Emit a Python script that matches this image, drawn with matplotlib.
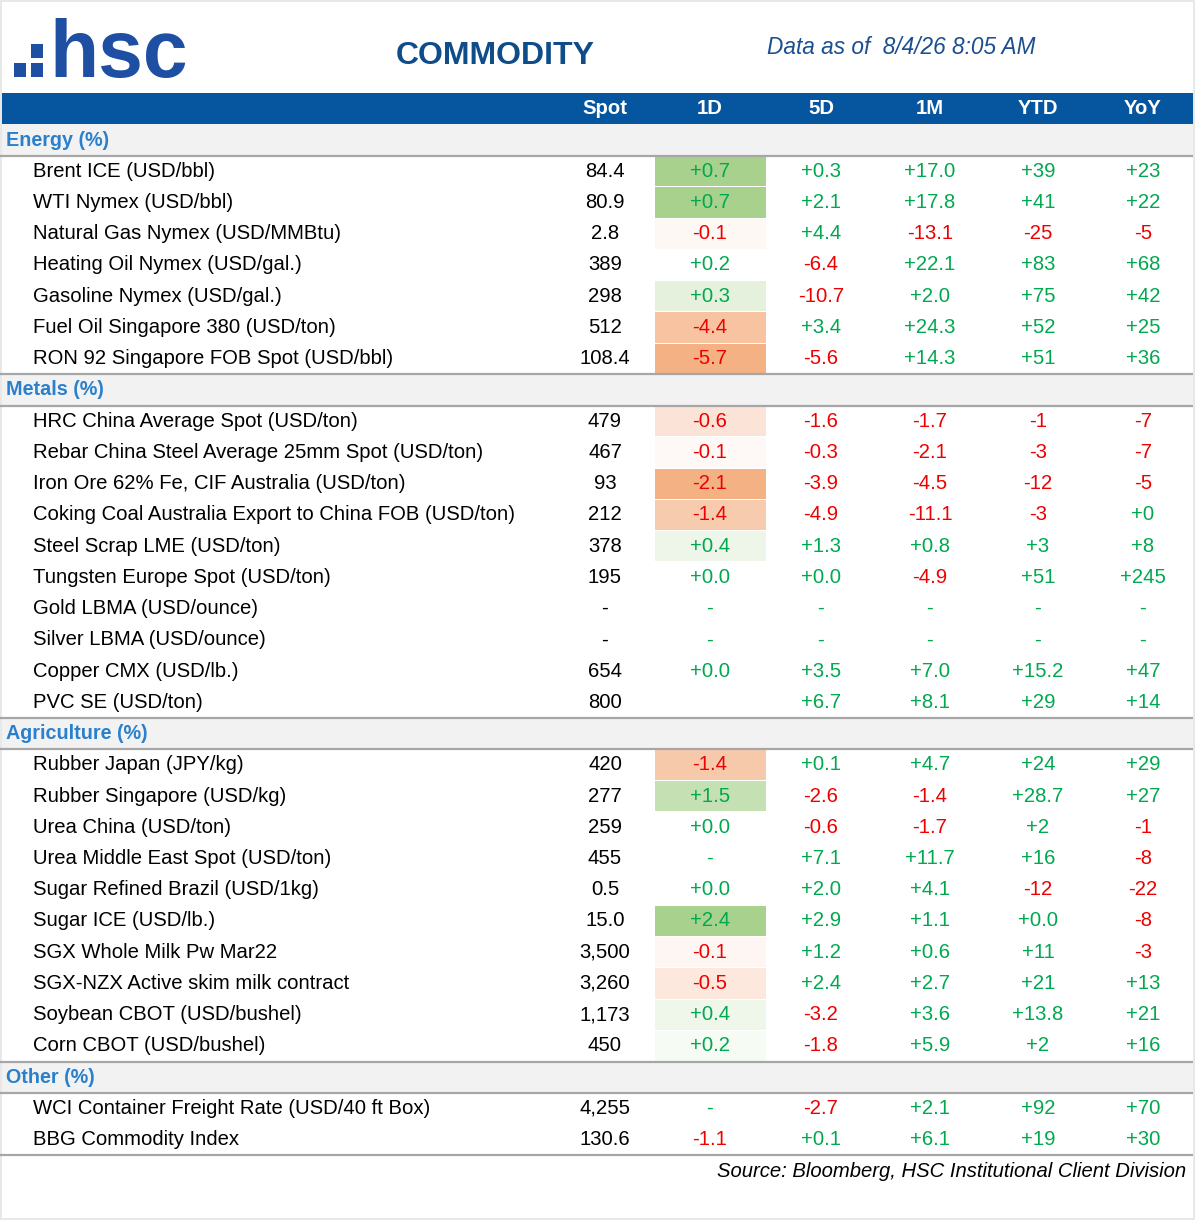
import matplotlib
matplotlib.use("Agg")
import matplotlib.pyplot as plt
from matplotlib.patches import Rectangle

# ---------------- data ----------------
columns = ["Spot", "1D", "5D", "1M", "YTD", "YoY"]
categories = ["Energy (%)", "Metals (%)", "Agriculture (%)", "Other (%)"]

energy_items = ["Brent ICE (USD/bbl)", "WTI Nymex (USD/bbl)", "Natural Gas Nymex (USD/MMBtu)",
                "Heating Oil Nymex (USD/gal.)", "Gasoline Nymex (USD/gal.)",
                "Fuel Oil Singapore 380 (USD/ton)", "RON 92 Singapore FOB Spot (USD/bbl)"]
energy_spot = ["84.4", "80.9", "2.8", "389", "298", "512", "108.4"]
energy_1d = ["+0.7", "+0.7", "-0.1", "+0.2", "+0.3", "-4.4", "-5.7"]
energy_5d = ["+0.3", "+2.1", "+4.4", "-6.4", "-10.7", "+3.4", "-5.6"]
energy_1m = ["+17.0", "+17.8", "-13.1", "+22.1", "+2.0", "+24.3", "+14.3"]
energy_ytd = ["+39", "+41", "-25", "+83", "+75", "+52", "+51"]
energy_yoy = ["+23", "+22", "-5", "+68", "+42", "+25", "+36"]

metals_items = ["HRC China Average Spot (USD/ton)", "Rebar China Steel Average 25mm Spot (USD/ton)",
                "Iron Ore 62% Fe, CIF Australia (USD/ton)",
                "Coking Coal Australia Export to China FOB (USD/ton)", "Steel Scrap LME (USD/ton)",
                "Tungsten Europe Spot (USD/ton)", "Gold LBMA (USD/ounce)", "Silver LBMA (USD/ounce)",
                "Copper CMX (USD/lb.)", "PVC SE (USD/ton)"]
metals_spot = ["479", "467", "93", "212", "378", "195", "-", "-", "654", "800"]
metals_1d = ["-0.6", "-0.1", "-2.1", "-1.4", "+0.4", "+0.0", "-", "-", "+0.0", ""]
metals_5d = ["-1.6", "-0.3", "-3.9", "-4.9", "+1.3", "+0.0", "-", "-", "+3.5", "+6.7"]
metals_1m = ["-1.7", "-2.1", "-4.5", "-11.1", "+0.8", "-4.9", "-", "-", "+7.0", "+8.1"]
metals_ytd = ["-1", "-3", "-12", "-3", "+3", "+51", "-", "-", "+15.2", "+29"]
metals_yoy = ["-7", "-7", "-5", "+0", "+8", "+245", "-", "-", "+47", "+14"]

agri_items = ["Rubber Japan (JPY/kg)", "Rubber Singapore (USD/kg)", "Urea China (USD/ton)",
              "Urea Middle East Spot (USD/ton)", "Sugar Refined Brazil (USD/1kg)", "Sugar ICE (USD/lb.)",
              "SGX Whole Milk Pw Mar22", "SGX-NZX Active skim milk contract",
              "Soybean CBOT (USD/bushel)", "Corn CBOT (USD/bushel)"]
agri_spot = ["420", "277", "259", "455", "0.5", "15.0", "3,500", "3,260", "1,173", "450"]
agri_1d = ["-1.4", "+1.5", "+0.0", "-", "+0.0", "+2.4", "-0.1", "-0.5", "+0.4", "+0.2"]
agri_5d = ["+0.1", "-2.6", "-0.6", "+7.1", "+2.0", "+2.9", "+1.2", "+2.4", "-3.2", "-1.8"]
agri_1m = ["+4.7", "-1.4", "-1.7", "+11.7", "+4.1", "+1.1", "+0.6", "+2.7", "+3.6", "+5.9"]
agri_ytd = ["+24", "+28.7", "+2", "+16", "-12", "+0.0", "+11", "+21", "+13.8", "+2"]
agri_yoy = ["+29", "+27", "-1", "-8", "-22", "-8", "-3", "+13", "+21", "+16"]

other_items = ["WCI Container Freight Rate (USD/40 ft Box)", "BBG Commodity Index"]
other_spot = ["4,255", "130.6"]
other_1d = ["-", "-1.1"]
other_5d = ["-2.7", "+0.1"]
other_1m = ["+2.1", "+6.1"]
other_ytd = ["+92", "+19"]
other_yoy = ["+70", "+30"]

groups = [
    (categories[0], energy_items, [energy_spot, energy_1d, energy_5d, energy_1m, energy_ytd, energy_yoy]),
    (categories[1], metals_items, [metals_spot, metals_1d, metals_5d, metals_1m, metals_ytd, metals_yoy]),
    (categories[2], agri_items, [agri_spot, agri_1d, agri_5d, agri_1m, agri_ytd, agri_yoy]),
    (categories[3], other_items, [other_spot, other_1d, other_5d, other_1m, other_ytd, other_yoy]),
]

# ---------------- style ----------------
fill_1d = {
    "Brent ICE (USD/bbl)": "#A9D18E", "WTI Nymex (USD/bbl)": "#A9D18E",
    "Natural Gas Nymex (USD/MMBtu)": "#FEF8F5", "Gasoline Nymex (USD/gal.)": "#E5F1DD",
    "Fuel Oil Singapore 380 (USD/ton)": "#F7C3A1", "RON 92 Singapore FOB Spot (USD/bbl)": "#F4B183",
    "HRC China Average Spot (USD/ton)": "#FBE4D7", "Rebar China Steel Average 25mm Spot (USD/ton)": "#FEF9F6",
    "Iron Ore 62% Fe, CIF Australia (USD/ton)": "#F4B183",
    "Coking Coal Australia Export to China FOB (USD/ton)": "#F7CBAD",
    "Steel Scrap LME (USD/ton)": "#EEF6E9",
    "Rubber Japan (JPY/kg)": "#F7C9AB", "Rubber Singapore (USD/kg)": "#C5E0B3",
    "Sugar ICE (USD/lb.)": "#A9D18E", "SGX Whole Milk Pw Mar22": "#FEF6F3",
    "SGX-NZX Active skim milk contract": "#FCE8DD", "Soybean CBOT (USD/bushel)": "#EFF7EB",
    "Corn CBOT (USD/bushel)": "#F6FBF3",
}

FONT = ["Liberation Sans", "DejaVu Sans"]
plt.rcParams["font.family"] = FONT

W, H = 1195, 1220
GREEN = "#00A84F"
RED = "#EE0000"
HEAD_BLUE = "#05559F"
CAT_BLUE = "#2A80CC"
GRAY_LINE = "#A6A6A6"
BAND = "#F2F2F2"
FS = 14.6

col_x = [605, 710, 821, 930, 1038, 1143]
col_1d_left, col_1d_right = 655, 766
y0, pitch = 140.0, 31.24
x_left, x_right = 2, 1193

fig = plt.figure(figsize=(W / 100, H / 100), dpi=100)
ax = fig.add_axes([0, 0, 1, 1])
ax.set_xlim(0, W)
ax.set_ylim(H, 0)
ax.axis("off")

# outer faint frame
ax.add_patch(Rectangle((0.5, 0.5), W - 1.5, H - 1.5, fill=False, ec="#E4E4E4", lw=1.2))

# logo
logo_c = "#1E4FA3"
for (lx, ly) in [(14, 63), (31, 44), (31, 63)]:
    ax.add_patch(Rectangle((lx, ly), 12.5, 13.5, fc=logo_c, ec="none"))
ax.text(49, 77, "hsc", fontsize=58, fontweight="bold", color=logo_c, va="baseline", ha="left")

ax.text(495, 56, "COMMODITY", fontsize=23, fontweight="bold", color="#0F4C8A", ha="center", va="center")
ax.text(767, 48, "Data as of  8/4/26 8:05 AM", fontsize=16.3, style="italic", color="#1B4F8F",
        ha="left", va="center")

# header bar
hy = y0 - pitch
ax.add_patch(Rectangle((x_left, hy - pitch / 2), x_right - x_left, pitch, fc=HEAD_BLUE, ec="none"))
for c, x in zip(columns, col_x):
    ax.text(x, hy, c, fontsize=FS, fontweight="bold", color="white", ha="center", va="center")


def val_color(s, col_idx):
    if col_idx == 0:
        return "black"
    if s.startswith("-") and len(s) > 1:
        return RED
    return GREEN


row = 0
for gi, (cat, items, cols) in enumerate(groups):
    cy = y0 + row * pitch
    ax.add_patch(Rectangle((x_left, cy - pitch / 2), x_right - x_left, pitch, fc=BAND, ec="none"))
    if gi > 0:
        ax.plot([0, x_right], [cy - pitch / 2, cy - pitch / 2], color=GRAY_LINE, lw=1.6,
                solid_capstyle="butt")
    ax.plot([0, x_right], [cy + pitch / 2, cy + pitch / 2], color=GRAY_LINE, lw=1.6,
            solid_capstyle="butt")
    ax.text(6, cy, cat, fontsize=14.2, fontweight="bold", color=CAT_BLUE, ha="left", va="center")
    row += 1
    for i, name in enumerate(items):
        ry = y0 + row * pitch
        if name in fill_1d:
            ax.add_patch(Rectangle((col_1d_left, ry - pitch / 2 + 0.5), col_1d_right - col_1d_left,
                                   pitch - 1, fc=fill_1d[name], ec="none"))
        ax.text(33, ry, name, fontsize=FS, color="black", ha="left", va="center")
        for ci, (x, vals) in enumerate(zip(col_x, cols)):
            s = vals[i]
            if s:
                ax.text(x, ry, s, fontsize=FS, color=val_color(s, ci), ha="center", va="center")
        row += 1

last_y = y0 + (row - 1) * pitch
ax.plot([0, x_right], [last_y + pitch / 2, last_y + pitch / 2], color=GRAY_LINE, lw=1.6,
        solid_capstyle="butt")
ax.text(1186, last_y + pitch + 0.5, "Source: Bloomberg, HSC Institutional Client Division",
        fontsize=FS, style="italic", color="black", ha="right", va="center")

fig.savefig("out.png", dpi=100, facecolor="white")
